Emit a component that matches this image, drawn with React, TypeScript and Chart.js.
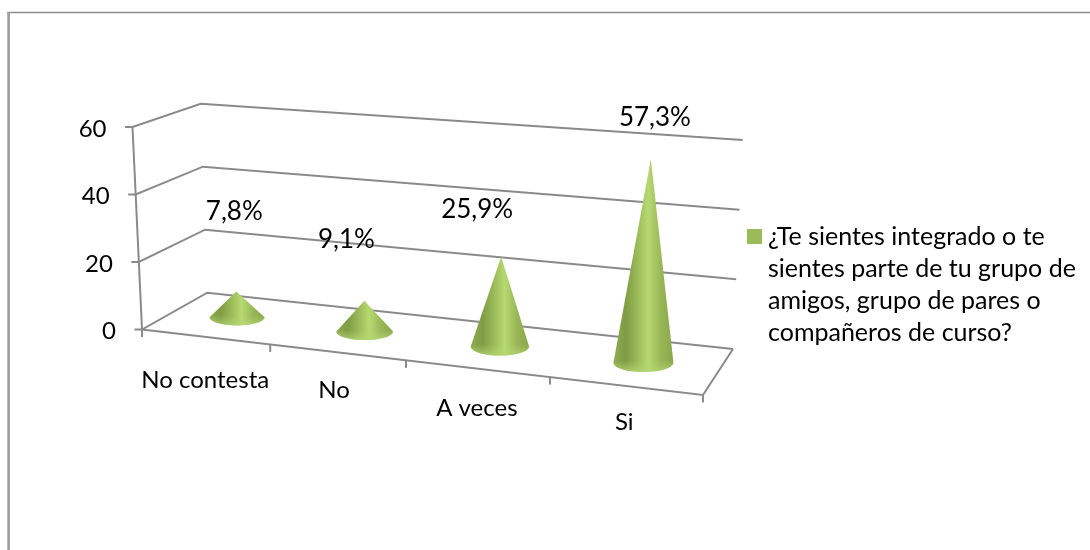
import React, { useEffect, useRef } from "react";
import { Chart, registerables } from "chart.js";

Chart.register(...registerables);

const CATEGORIES = ["No contesta", "No", "A veces", "Si"];
const VALUES = [7.8, 9.1, 25.9, 57.3];
const Y_TICK_STEP = 20;
const Y_MAX = 60;
const LEGEND_LINES = [
  "¿Te sientes integrado o te",
  "sientes parte de tu grupo de",
  "amigos, grupo de pares o",
  "compañeros de curso?",
];

const FONT = "Lato, Carlito, 'Open Sans', sans-serif";
const GRID = "#8a8a8a";
const GREEN = "#9BBB59";

// Offsets of the free-floating labels relative to the mark they belong to
const VALUE_LABEL_OFFSET = [[-2, -80], [-18, -61], [-24, -47], [4, -41]];
const CATEGORY_LABEL_OFFSET = [[0, 43], [-3, 38], [0, 40], [-1, 36]];

type Pt = [number, number];
const lerp = (a: number, b: number, f: number) => a + (b - a) * f;
const lerpPt = (a: Pt, b: Pt, f: number): Pt => [lerp(a[0], b[0], f), lerp(a[1], b[1], f)];

// Projection of the 3D box: floor corners and wall-height vectors
const FL: Pt = [142, 329.5];
const FR: Pt = [703.3, 395];
const BL: Pt = [207.3, 292.7];
const BR: Pt = [733.3, 349];
const UP_FL: Pt = [-9.5, -202.5];
const UP_FR: Pt = [11, -224];
const UP_BL: Pt = [-6.6, -189];
const UP_BR: Pt = [9.7, -209];

const perspective = (t: number) => {
  const x = (120.7 * t + 142) / (1 - 0.0278 * t);
  return (x - 142) / 561.3;
};

const project = (t: number, depth: number, h: number): Pt => {
  const f = perspective(t);
  const base = lerpPt(lerpPt(FL, FR, f), lerpPt(BL, BR, f), depth);
  const up = lerpPt(lerpPt(UP_FL, UP_BL, depth), lerpPt(UP_FR, UP_BR, depth), f);
  return [base[0] + up[0] * h, base[1] + up[1] * h];
};

const line = (ctx: CanvasRenderingContext2D, pts: Pt[]) => {
  ctx.beginPath();
  pts.forEach((p, i) => (i ? ctx.lineTo(p[0], p[1]) : ctx.moveTo(p[0], p[1])));
  ctx.stroke();
};

const heightFrac = (chart: any, v: number) => {
  const y = chart.scales.y;
  return (y.getPixelForValue(0) - y.getPixelForValue(v)) / (y.getPixelForValue(0) - y.getPixelForValue(Y_MAX));
};
const slotOf = (chart: any, px: number) => {
  const a = chart.chartArea;
  return ((px - a.left) / (a.right - a.left)) * CATEGORIES.length;
};

const drawCone = (ctx: CanvasRenderingContext2D, base: Pt, apex: Pt, rx: number, ry: number) => {
  const [cx, cy] = base;
  ctx.save();
  ctx.beginPath();
  ctx.moveTo(apex[0], apex[1]);
  ctx.lineTo(cx + rx, cy);
  ctx.ellipse(cx, cy, rx, ry, 0, 0, Math.PI, false);
  ctx.closePath();
  ctx.clip();
  const g = ctx.createLinearGradient(cx - rx, 0, cx + rx, 0);
  g.addColorStop(0, "#8fad52");
  g.addColorStop(0.2, "#7f9c44");
  g.addColorStop(0.45, "#a2c35f");
  g.addColorStop(0.58, "#b7d971");
  g.addColorStop(0.8, "#98b656");
  g.addColorStop(1, "#89a74c");
  ctx.fillStyle = g;
  ctx.fillRect(cx - rx - 2, apex[1] - 2, rx * 2 + 4, cy + ry - apex[1] + 4);
  // light rim of the base
  const rim = ctx.createLinearGradient(0, cy - ry * 0.2, 0, cy + ry);
  rim.addColorStop(0, "rgba(180,215,115,0)");
  rim.addColorStop(1, "rgba(180,215,115,0.75)");
  ctx.fillStyle = rim;
  ctx.fillRect(cx - rx - 2, cy - ry, rx * 2 + 4, ry * 2 + 2);
  ctx.restore();
};

const conePlugin = {
  id: "cone3d",
  beforeDatasetsDraw(chart: any) {
    const ctx: CanvasRenderingContext2D = chart.ctx;
    const yScale = chart.scales.y;
    ctx.save();
    // Frame of the chart
    ctx.strokeStyle = "#8c8c8c";
    ctx.lineWidth = 1.4;
    line(ctx, [[7, 12.5], [1090, 12.5]]);
    ctx.strokeStyle = "#9c9c9c";
    ctx.lineWidth = 2.6;
    line(ctx, [[8.6, 12], [8.6, 550]]);

    // Walls, floor and value axis
    ctx.strokeStyle = GRID;
    ctx.lineWidth = 2;
    ctx.fillStyle = "#000";
    yScale.ticks.forEach((tick: any) => {
      const h = heightFrac(chart, tick.value);
      const front = project(0, 0, h);
      const back = project(0, 1, h);
      const right = project(CATEGORIES.length, 1, h);
      line(ctx, [[front[0] - 7.5, front[1]], front, back, right]);
      ctx.font = `24px ${FONT}`;
      ctx.textAlign = "right";
      ctx.textBaseline = "middle";
      ctx.fillText(String(tick.value), front[0] - 26, front[1] + 2);
    });
    line(ctx, [project(0, 0, 0), project(0, 0, 1)]);
    line(ctx, [project(4, 1, 0), project(4, 0, 0), project(0, 0, 0)]);
    for (let t = 0; t <= CATEGORIES.length; t++) {
      const p = project(t, 0, 0);
      line(ctx, [p, [p[0], p[1] + 7.5]]);
    }

    // Category labels
    ctx.font = `24px ${FONT}`;
    ctx.textAlign = "center";
    CATEGORIES.forEach((c, i) => {
      const t = slotOf(chart, chart.scales.x.getPixelForValue(i));
      const p = project(t, 0, 0);
      ctx.fillText(c, p[0] + CATEGORY_LABEL_OFFSET[i][0], p[1] + CATEGORY_LABEL_OFFSET[i][1]);
    });

    // Legend
    ctx.fillStyle = chart.data.datasets[0].backgroundColor;
    ctx.fillRect(747, 229, 15, 15);
    ctx.fillStyle = "#000";
    ctx.font = `25px ${FONT}`;
    ctx.textAlign = "left";
    LEGEND_LINES.forEach((l, i) => ctx.fillText(l, 768, 236.5 + i * 32));
    ctx.restore();
  },
  beforeDatasetDraw(chart: any) {
    const ctx: CanvasRenderingContext2D = chart.ctx;
    const meta = chart.getDatasetMeta(0);
    meta.data.forEach((bar: any, i: number) => {
      const t = slotOf(chart, bar.x);
      const h = heightFrac(chart, chart.data.datasets[0].data[i]);
      const base = project(t, 0.52, 0);
      const apex = project(t, 0.52, h);
      drawCone(ctx, base, apex, 27.2 + 0.8 * t, 8 + 0.4 * t);
      ctx.save();
      ctx.fillStyle = "#000";
      ctx.font = `26px ${FONT}`;
      ctx.textAlign = "center";
      ctx.textBaseline = "middle";
      const txt = chart.data.datasets[0].data[i].toFixed(1).replace(".", ",") + "%";
      ctx.fillText(txt, apex[0] + VALUE_LABEL_OFFSET[i][0], apex[1] + VALUE_LABEL_OFFSET[i][1]);
      ctx.restore();
    });
    return false;
  },
};

export default function App() {
  const ref = useRef<HTMLCanvasElement>(null);
  useEffect(() => {
    const chart = new Chart(ref.current as HTMLCanvasElement, {
      type: "bar",
      data: {
        labels: CATEGORIES,
        datasets: [{ label: LEGEND_LINES.join(" "), data: VALUES, backgroundColor: GREEN }],
      },
      options: {
        animation: false,
        responsive: false,
        layout: { padding: { left: 142, right: 387, top: 127, bottom: 220 } },
        plugins: { legend: { display: false }, tooltip: { enabled: false } },
        scales: {
          x: { display: false, grid: { display: false } },
          y: { display: false, min: 0, max: Y_MAX, ticks: { stepSize: Y_TICK_STEP } },
        },
      },
      plugins: [conePlugin],
    } as any);
    return () => chart.destroy();
  }, []);
  return (
    <div style={{ position: "absolute", left: 0, top: 0, width: 1090, height: 550, background: "#fff", overflow: "hidden" }}>
      <canvas ref={ref} width={1090} height={550} style={{ display: "block" }} />
    </div>
  );
}
